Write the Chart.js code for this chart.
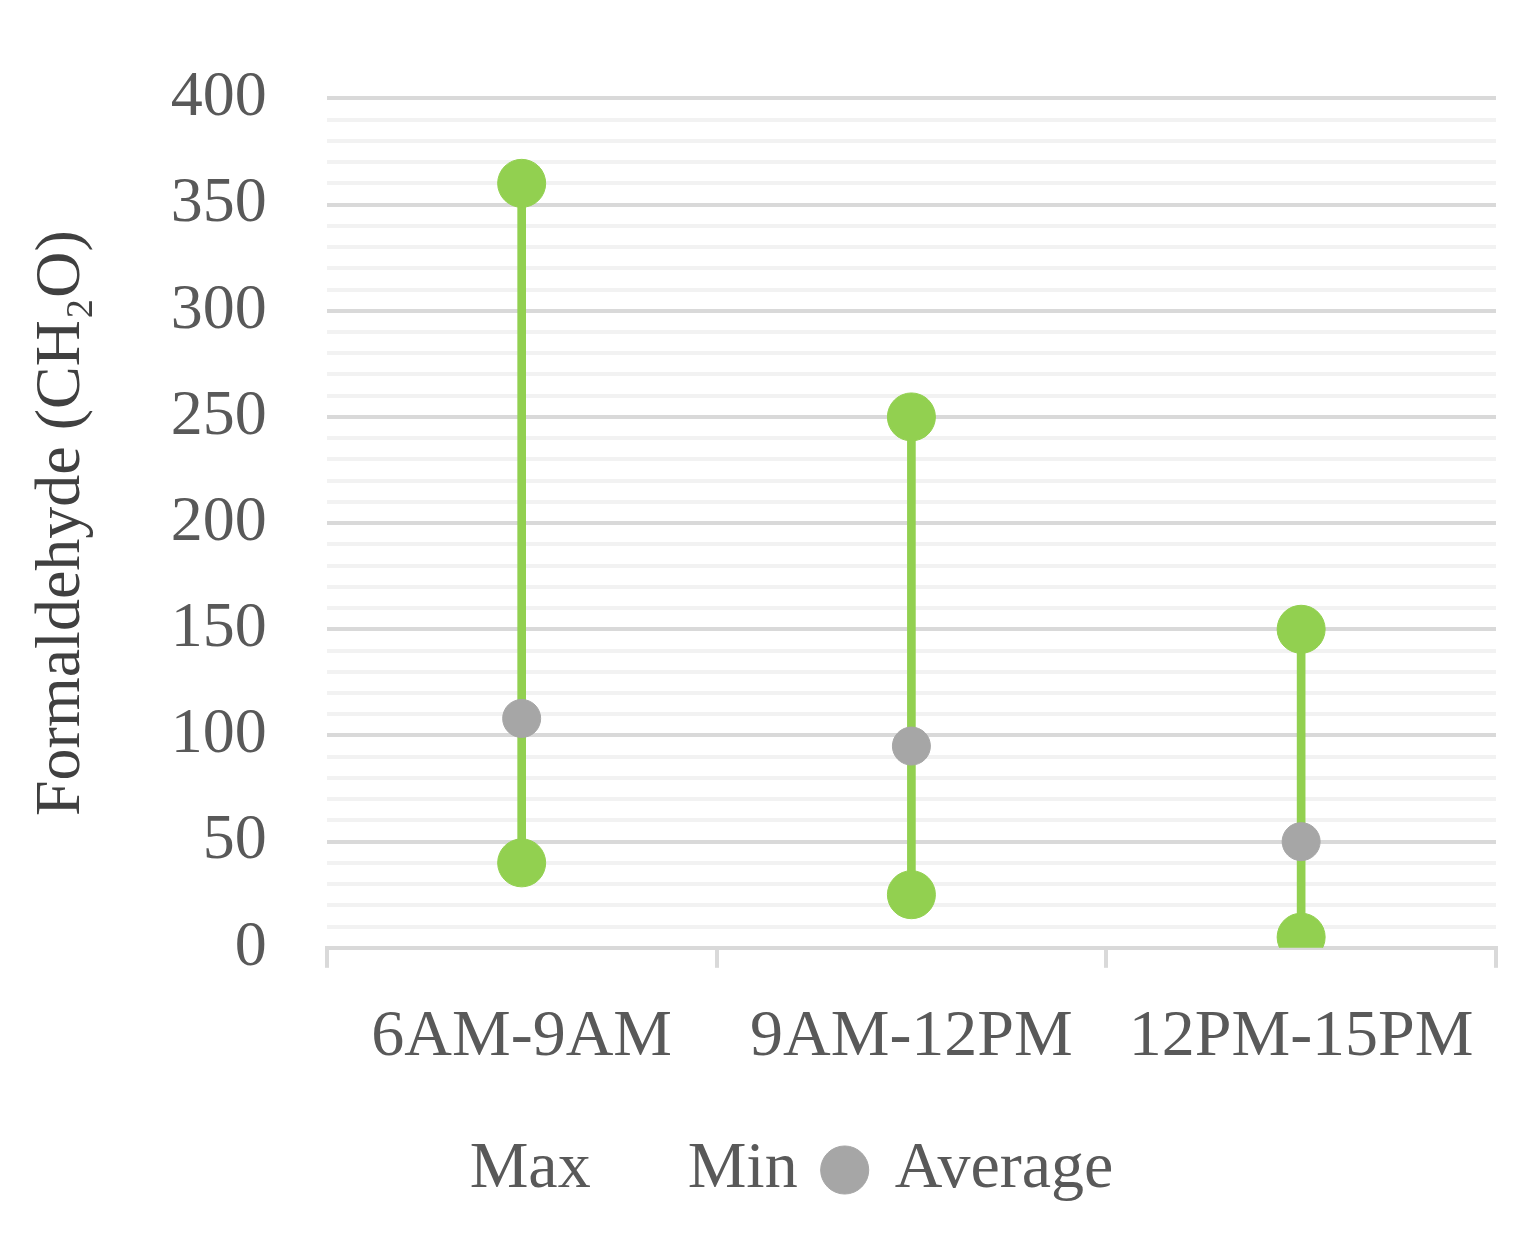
<!DOCTYPE html>
<html>
<head>
<meta charset="utf-8">
<script src="https://cdn.jsdelivr.net/npm/chart.js@4/dist/chart.umd.min.js"></script>
<style>
  html, body { margin: 0; padding: 0; background: #fff; }
  #wrap { width: 1522px; height: 1233px; }
</style>
</head>
<body>
<div id="wrap"><canvas id="chart"></canvas></div>
<script>
// data
const periods = ['6AM-9AM', '9AM-12PM', '12PM-15PM'];
const maxVals = [360, 250, 150];
const minVals = [40, 25, 5];
const avgVals = [108, 95, 50];

const green = '#92d050';
const grey = '#a6a6a6';
const serif = '"Liberation Serif", "Times New Roman", serif';

const ranges = maxVals.map((v, i) => [minVals[i], v]);

new Chart(document.getElementById('chart'), {
  type: 'bar',
  data: {
    labels: periods,
    datasets: [
      { type: 'line', label: 'Max', data: maxVals, showLine: false,
        pointRadius: 24, pointHoverRadius: 24, backgroundColor: green, borderColor: green, order: 0 },
      { type: 'line', label: 'Min', data: minVals, showLine: false,
        pointRadius: 24, pointHoverRadius: 24, backgroundColor: green, borderColor: green, order: 0 },
      { type: 'line', label: 'Average', data: avgVals, showLine: false,
        pointRadius: 19, pointHoverRadius: 19, backgroundColor: grey, borderColor: grey, order: 0 },
      { type: 'bar', label: 'range', data: ranges, backgroundColor: green,
        barThickness: 8, order: 5 }
    ]
  },
  options: {
    responsive: true,
    maintainAspectRatio: false,
    animation: false,
    layout: { padding: { top: 0, right: 26, left: 20, bottom: 20 } },
    plugins: {
      tooltip: { enabled: false },
      legend: {
        position: 'bottom',
        labels: {
          usePointStyle: true,
          pointStyle: 'circle',
          boxWidth: 34,
          boxHeight: 34,
          padding: 30,
          color: '#595959',
          font: { family: serif, size: 66 },
          sort: (a, b) => a.datasetIndex - b.datasetIndex,
          filter: item => item.text !== 'range',
          generateLabels: chart => {
            const items = Chart.defaults.plugins.legend.labels.generateLabels(chart);
            items.forEach(it => {
              if (it.text === 'Max' || it.text === 'Min') {
                it.fillStyle = 'rgba(0,0,0,0)';
                it.strokeStyle = 'rgba(0,0,0,0)';
              }
            });
            return items;
          }
        }
      }
    },
    scales: {
      x: {
        offset: true,
        grid: { offset: true, drawOnChartArea: false, drawTicks: true, tickLength: 20,
                color: '#d9d9d9', lineWidth: 4 },
        border: { color: '#d9d9d9', width: 4 },
        ticks: { color: '#595959', font: { family: serif, size: 66 }, padding: 30 }
      },
      y: {
        min: 0, max: 400,
        ticks: {
          stepSize: 10,
          autoSkip: false,
          color: '#595959',
          font: { family: serif, size: 64 },
          padding: 60,
          callback: v => (v % 50 === 0 ? v : '')
        },
        grid: {
          drawTicks: false,
          lineWidth: 4,
          color: ctx => (ctx.tick && ctx.tick.value % 50 === 0 ? '#d9d9d9' : '#f2f2f2')
        },
        border: { display: false },
        title: { display: true, text: 'Formaldehyde (CH₂O)', color: '#404040',
                 font: { family: serif, size: 64 }, padding: { bottom: 10 } }
      }
    }
  }
});
</script>
</body>
</html>
